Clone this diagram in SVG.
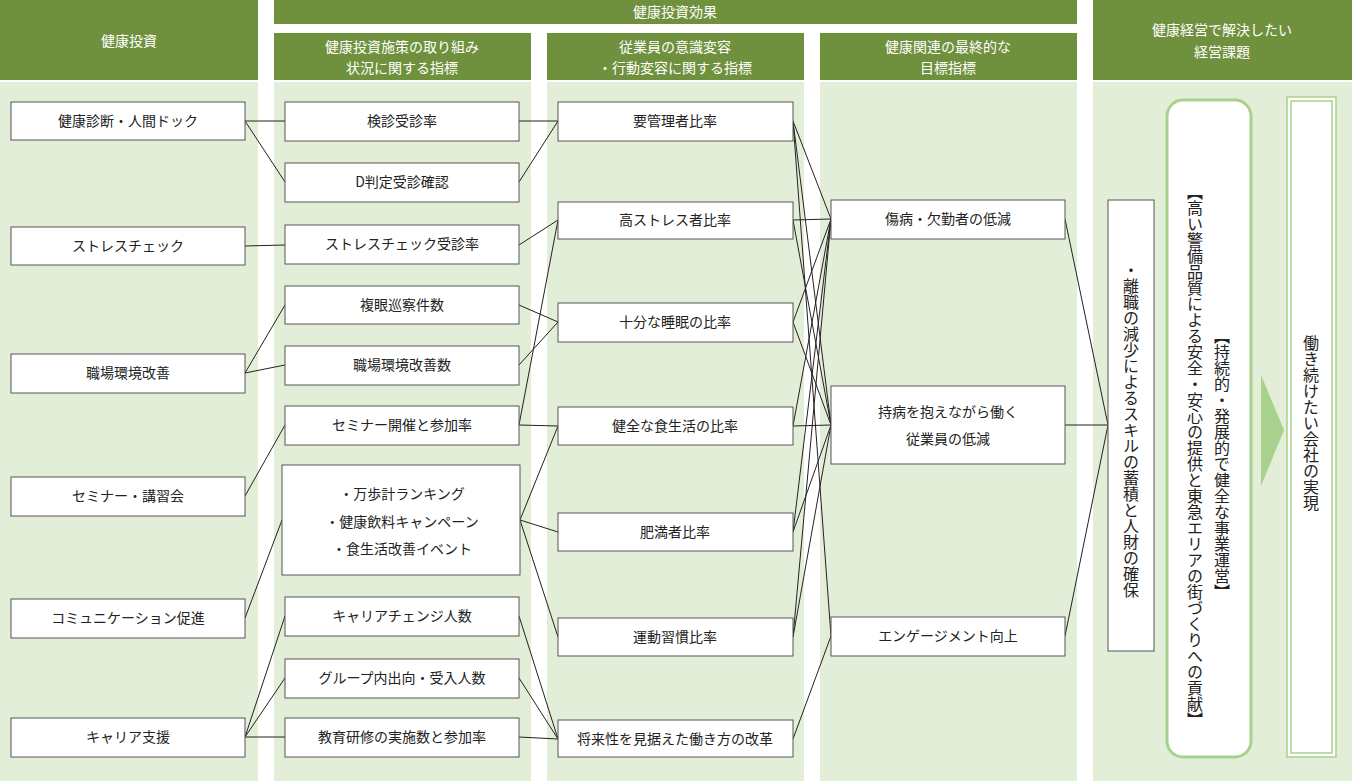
<svg xmlns="http://www.w3.org/2000/svg" width="1352" height="781" viewBox="0 0 1352 781">
<style>
.bg{fill:#e3eed9}
.hd{fill:#6f913d}
.ht{fill:#fff;font-family:"Noto Sans CJK JP",sans-serif;font-size:14px;text-anchor:middle}
.b{fill:#fff;stroke:#555;stroke-width:1}
.t{fill:#222;font-family:"Noto Sans CJK JP",sans-serif;font-size:14px;text-anchor:middle}
.v{fill:#222;font-family:"Noto Sans CJK JP",sans-serif;font-size:16px;writing-mode:vertical-rl}
#connectors line{stroke:#222;stroke-width:1}
</style>
<rect width="1352" height="781" fill="#fff"/>
<g id="columns">
<rect class="hd" x="0" y="0" width="258" height="80"/><text class="ht" x="129" y="46">健康投資</text>
<rect class="bg" x="0" y="82" width="258" height="699"/>
<rect class="hd" x="274" y="0" width="803" height="24"/><text class="ht" x="675" y="17">健康投資効果</text>
<rect class="hd" x="274" y="33" width="257" height="47"/><text class="ht" x="402" y="52">健康投資施策の取り組み</text><text class="ht" x="402" y="73">状況に関する指標</text>
<rect class="hd" x="547" y="33" width="257" height="47"/><text class="ht" x="675" y="52">従業員の意識変容</text><text class="ht" x="675" y="73">・行動変容に関する指標</text>
<rect class="hd" x="820" y="33" width="257" height="47"/><text class="ht" x="948" y="52">健康関連の最終的な</text><text class="ht" x="948" y="73">目標指標</text>
<rect class="bg" x="274" y="82" width="257" height="699"/>
<rect class="bg" x="547" y="82" width="257" height="699"/>
<rect class="bg" x="820" y="82" width="257" height="699"/>
<rect class="hd" x="1093" y="0" width="259" height="80"/><text class="ht" x="1222" y="35">健康経営で解決したい</text><text class="ht" x="1222" y="57">経営課題</text>
<rect class="bg" x="1093" y="82" width="259" height="699"/>
</g>
<g id="connectors">
<line x1="245" y1="121" x2="285" y2="121"/><line x1="245" y1="121" x2="285" y2="182"/>
<line x1="245" y1="246" x2="285" y2="245"/>
<line x1="245" y1="373" x2="285" y2="305"/><line x1="245" y1="373" x2="285" y2="365"/>
<line x1="245" y1="496" x2="285" y2="425"/>
<line x1="245" y1="618" x2="282" y2="520"/>
<line x1="245" y1="737" x2="285" y2="616"/><line x1="245" y1="737" x2="285" y2="678"/><line x1="245" y1="737" x2="285" y2="737"/>
<line x1="519" y1="121" x2="558" y2="121"/><line x1="519" y1="182" x2="558" y2="121"/>
<line x1="519" y1="245" x2="558" y2="220"/>
<line x1="519" y1="305" x2="558" y2="322"/><line x1="519" y1="365" x2="558" y2="322"/>
<line x1="519" y1="425" x2="558" y2="220"/><line x1="519" y1="425" x2="558" y2="426"/>
<line x1="520" y1="520" x2="558" y2="426"/><line x1="520" y1="520" x2="558" y2="532"/><line x1="520" y1="520" x2="558" y2="637"/>
<line x1="519" y1="616" x2="558" y2="739"/><line x1="519" y1="678" x2="558" y2="739"/><line x1="519" y1="737" x2="558" y2="739"/>
<line x1="793" y1="121" x2="831" y2="219"/><line x1="793" y1="121" x2="831" y2="425"/><line x1="793" y1="121" x2="831" y2="636"/>
<line x1="793" y1="220" x2="831" y2="219"/><line x1="793" y1="220" x2="831" y2="425"/>
<line x1="793" y1="322" x2="831" y2="219"/><line x1="793" y1="322" x2="831" y2="425"/>
<line x1="793" y1="426" x2="831" y2="219"/><line x1="793" y1="426" x2="831" y2="425"/>
<line x1="793" y1="532" x2="831" y2="219"/><line x1="793" y1="532" x2="831" y2="425"/>
<line x1="793" y1="637" x2="831" y2="219"/><line x1="793" y1="637" x2="831" y2="425"/>
<line x1="793" y1="739" x2="831" y2="636"/>
<line x1="1065" y1="219" x2="1108" y2="425"/><line x1="1065" y1="425" x2="1108" y2="425"/><line x1="1065" y1="636" x2="1108" y2="425"/>
</g>
<g id="n-c1">
<g id="kenshin"><rect class="b" x="11" y="102" width="234" height="38"/><text class="t" x="128" y="126">健康診断・人間ドック</text></g>
<g id="stress"><rect class="b" x="11" y="227" width="234" height="38"/><text class="t" x="128" y="251">ストレスチェック</text></g>
<g id="shokuba"><rect class="b" x="11" y="354" width="234" height="39"/><text class="t" x="128" y="378">職場環境改善</text></g>
<g id="seminar"><rect class="b" x="11" y="477" width="234" height="39"/><text class="t" x="128" y="501">セミナー・講習会</text></g>
<g id="comm"><rect class="b" x="11" y="599" width="234" height="39"/><text class="t" x="128" y="623">コミュニケーション促進</text></g>
<g id="career"><rect class="b" x="11" y="718" width="234" height="39"/><text class="t" x="128" y="742">キャリア支援</text></g>
</g>
<g id="n-c2">
<g id="kenju"><rect class="b" x="285" y="102" width="234" height="39"/><text class="t" x="402" y="126">検診受診率</text></g>
<g id="dhan"><rect class="b" x="285" y="163" width="234" height="39"/><text class="t" x="402" y="187">D判定受診確認</text></g>
<g id="scju"><rect class="b" x="285" y="225" width="234" height="39"/><text class="t" x="402" y="249">ストレスチェック受診率</text></g>
<g id="fukugan"><rect class="b" x="285" y="286" width="234" height="38"/><text class="t" x="402" y="310">複眼巡察件数</text></g>
<g id="kaizen"><rect class="b" x="285" y="346" width="234" height="39"/><text class="t" x="402" y="370">職場環境改善数</text></g>
<g id="semkai"><rect class="b" x="285" y="406" width="234" height="39"/><text class="t" x="402" y="430">セミナー開催と参加率</text></g>
<g id="events"><rect class="b" x="282" y="465" width="238" height="110"/><text class="t" x="402" y="499">・万歩計ランキング</text><text class="t" x="402" y="527">・健康飲料キャンペーン</text><text class="t" x="402" y="554">・食生活改善イベント</text></g>
<g id="cchange"><rect class="b" x="285" y="597" width="234" height="39"/><text class="t" x="402" y="621">キャリアチェンジ人数</text></g>
<g id="group"><rect class="b" x="285" y="659" width="234" height="39"/><text class="t" x="402" y="683">グループ内出向・受入人数</text></g>
<g id="kyoiku"><rect class="b" x="285" y="718" width="234" height="39"/><text class="t" x="402" y="742">教育研修の実施数と参加率</text></g>
</g>
<g id="n-c3">
<g id="kanri"><rect class="b" x="558" y="102" width="235" height="39"/><text class="t" x="675" y="126">要管理者比率</text></g>
<g id="kostress"><rect class="b" x="558" y="202" width="235" height="37"/><text class="t" x="675" y="225">高ストレス者比率</text></g>
<g id="suimin"><rect class="b" x="558" y="303" width="235" height="39"/><text class="t" x="675" y="327">十分な睡眠の比率</text></g>
<g id="shoku"><rect class="b" x="558" y="407" width="235" height="38"/><text class="t" x="675" y="431">健全な食生活の比率</text></g>
<g id="himan"><rect class="b" x="558" y="513" width="235" height="38"/><text class="t" x="675" y="537">肥満者比率</text></g>
<g id="undo"><rect class="b" x="558" y="618" width="235" height="38"/><text class="t" x="675" y="642">運動習慣比率</text></g>
<g id="shorai"><rect class="b" x="558" y="720" width="235" height="37"/><text class="t" x="675" y="744">将来性を見据えた働き方の改革</text></g>
</g>
<g id="n-c4">
<g id="shobyo"><rect class="b" x="831" y="200" width="234" height="39"/><text class="t" x="948" y="224">傷病・欠勤者の低減</text></g>
<g id="jibyo"><rect class="b" x="831" y="386" width="234" height="78"/><text class="t" x="948" y="417">持病を抱えながら働く</text><text class="t" x="948" y="444">従業員の低減</text></g>
<g id="engage"><rect class="b" x="831" y="617" width="234" height="39"/><text class="t" x="948" y="641">エンゲージメント向上</text></g>
</g>
<g id="n-c5">
<g id="rishoku"><rect class="b" x="1108" y="200" width="46" height="451"/><text class="v" x="1131" y="262">・離職の減少によるスキルの蓄積と人財の確保</text></g>
<g id="jizoku"><rect x="1167" y="100" width="84" height="657" rx="16" fill="#fff" stroke="#a9d18e" stroke-width="3"/>
<text class="v" x="1222" y="328">【持続的・発展的で健全な事業運営】</text>
<text class="v" x="1195" y="184">【高い警備品質による安全・安心の提供と東急エリアの街づくりへの貢献】</text></g>
<polygon points="1261,375 1284,430 1261,486" fill="#a9d18e"/>
<g id="hataraki"><rect x="1287" y="97" width="49" height="660" fill="#fff" stroke="#a9d18e" stroke-width="1.5"/><rect x="1291" y="101" width="41" height="652" fill="none" stroke="#a9d18e" stroke-width="1.5"/>
<text class="v" x="1311" y="335">働き続けたい会社の実現</text></g>
</g>
</svg>
